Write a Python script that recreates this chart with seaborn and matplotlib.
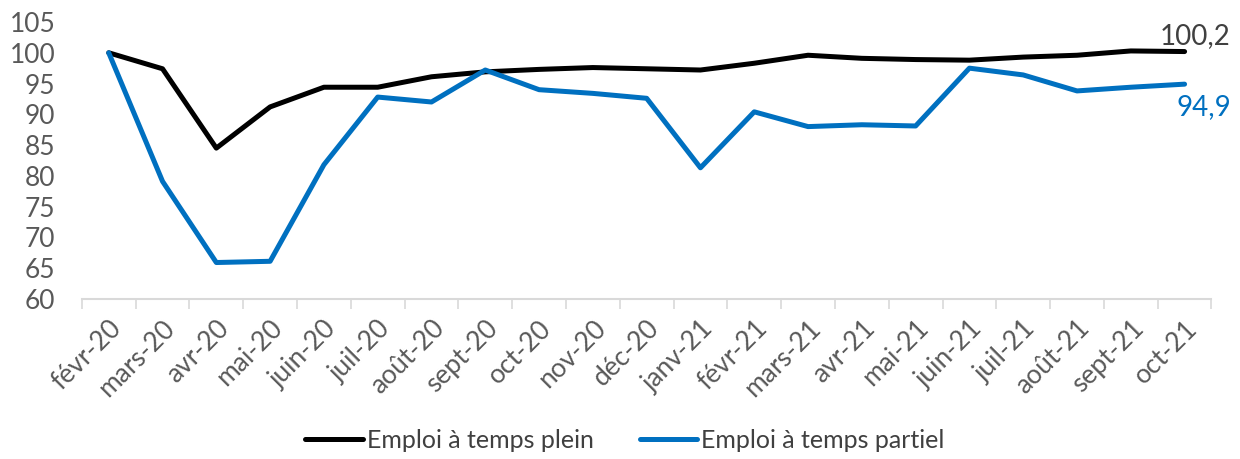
import numpy as np
import pandas as pd
import matplotlib.pyplot as plt
import seaborn as sns
from matplotlib.ticker import FixedLocator

months = ['févr-20', 'mars-20', 'avr-20', 'mai-20', 'juin-20', 'juil-20', 'août-20',
          'sept-20', 'oct-20', 'nov-20', 'déc-20', 'janv-21', 'févr-21', 'mars-21',
          'avr-21', 'mai-21', 'juin-21', 'juil-21', 'août-21', 'sept-21', 'oct-21']

plein = [100, 97.4, 84.5, 91.2, 94.4, 94.4, 96.1, 96.9, 97.3, 97.6, 97.4,
         97.2, 98.3, 99.6, 99.1, 98.9, 98.8, 99.3, 99.6, 100.3, 100.2]
partiel = [100, 79.1, 65.9, 66.1, 81.8, 92.8, 92.0, 97.2, 94.0, 93.4, 92.6,
           81.3, 90.4, 88.0, 88.3, 88.1, 97.5, 96.4, 93.8, 94.4, 94.9]

series_names = ['Emploi à temps plein', 'Emploi à temps partiel']
colors = ['#000000', '#0070C0']

df = pd.DataFrame({
    'x': list(range(len(months))) * 2,
    'valeur': plein + partiel,
    'serie': [series_names[0]] * len(months) + [series_names[1]] * len(months),
})

sns.set_style('white')
plt.rcParams['font.family'] = ['Lato', 'DejaVu Sans']

fig = plt.figure(figsize=(12.4, 4.59), dpi=100)
ax = fig.add_axes([0.066, 0.349, 0.911, 0.603])

sns.lineplot(data=df, x='x', y='valeur', hue='serie', palette=colors,
             linewidth=3.6, ax=ax, legend=True)

ax.set_ylim(60, 105)
ax.set_yticks(np.arange(60, 106, 5))
ax.set_xlim(-0.5, len(months) - 0.5)
ax.set_xticks(range(len(months)))
ax.set_xticklabels(months, rotation=45, ha='right', rotation_mode='anchor',
                   fontsize=19, color='#595959')
ax.xaxis.set_minor_locator(FixedLocator(np.arange(-0.5, len(months), 1)))
ax.tick_params(axis='x', which='major', length=0, pad=12)
ax.tick_params(axis='x', which='minor', length=7, color='#D9D9D9', width=1.2, bottom=True)
ax.tick_params(axis='y', length=0, labelsize=19, labelcolor='#595959', pad=19)
ax.set_xlabel('')
ax.set_ylabel('')

for s in ['left', 'right', 'top']:
    ax.spines[s].set_visible(False)
ax.spines['bottom'].set_color('#D9D9D9')
ax.spines['bottom'].set_linewidth(1.5)

ax.text(len(months) - 0.14, plein[-1] + 0.4, '100,2', fontsize=20, color='#404040',
        ha='right', va='bottom')
ax.text(len(months) - 0.14, partiel[-1] - 1.6, '94,9', fontsize=20, color='#0070C0',
        ha='right', va='top')

leg = ax.legend(loc='center', bbox_to_anchor=(0.504, 0.041), bbox_transform=fig.transFigure,
                ncol=2, frameon=False, fontsize=18, handlelength=2.3,
                handletextpad=0.16, columnspacing=1.85)
for t in leg.get_texts():
    t.set_color('#404040')

plt.savefig('out.png', dpi=100)
